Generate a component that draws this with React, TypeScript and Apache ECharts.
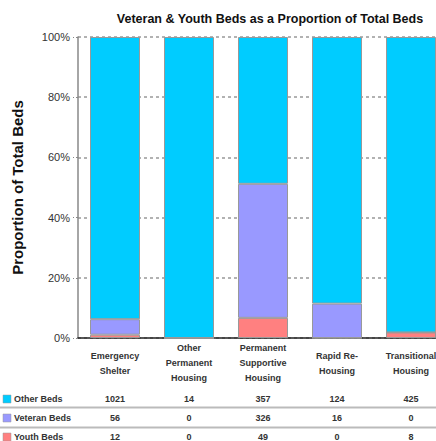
import React, { useEffect, useRef } from "react";
import * as echarts from "echarts";

const categories = [
  "Emergency\nShelter",
  "Other\nPermanent\nHousing",
  "Permanent\nSupportive\nHousing",
  "Rapid Re-\nHousing",
  "Transitional\nHousing",
];
const otherBeds = [1021, 14, 357, 124, 425];
const veteranBeds = [56, 0, 326, 16, 0];
const youthBeds = [12, 0, 49, 0, 8];
const yTicks = [0, 20, 40, 60, 80, 100];

const seriesDefs = [
  { name: "Other Beds", values: otherBeds, color: "#00CCFF" },
  { name: "Veteran Beds", values: veteranBeds, color: "#9999FF" },
  { name: "Youth Beds", values: youthBeds, color: "#FF8080" },
];

const FONT = "Liberation Sans";

export default function App() {
  const ref = useRef<HTMLDivElement>(null);
  useEffect(() => {
    if (!ref.current) return;
    const chart = echarts.init(ref.current, null, { renderer: "svg" });
    const totals = categories.map((_, i) => otherBeds[i] + veteranBeds[i] + youthBeds[i]);
    const pct = (arr: number[]) => arr.map((v, i) => (totals[i] ? (v / totals[i]) * 100 : 0));
    const stackOrder = [seriesDefs[2], seriesDefs[1], seriesDefs[0]];
    chart.setOption({
      animation: false,
      title: {
        text: "Veteran & Youth Beds as a Proportion of Total Beds",
        left: 265,
        textAlign: "center",
        top: 7,
        textStyle: { fontFamily: FONT, fontSize: 12.5, fontWeight: "bold", color: "#111" },
      },
      grid: { left: 78, top: 37, width: 370, height: 301, outerBoundsMode: "none", containLabel: false },
      xAxis: {
        type: "category",
        data: categories,
        axisLine: { lineStyle: { color: "#222", width: 1.5 } },
        axisTick: { show: false },
        axisLabel: {
          interval: 0,
          margin: 25,
          verticalAlign: "middle",
          fontFamily: FONT,
          fontSize: 9,
          fontWeight: "bold",
          color: "#333",
          lineHeight: 15,
        },
      },
      yAxis: {
        type: "value",
        min: yTicks[0],
        max: yTicks[yTicks.length - 1],
        interval: 20,
        name: "Proportion of Total Beds",
        nameLocation: "middle",
        nameGap: 53,
        nameTextStyle: { fontFamily: FONT, fontSize: 15, fontWeight: "bold", color: "#111" },
        axisLine: { show: true, lineStyle: { color: "#888", width: 1.5 } },
        axisTick: { show: true, length: 5, lineStyle: { color: "#888", type: [2, 2] } },
        axisLabel: {
          formatter: "{value}%",
          fontFamily: FONT,
          fontSize: 11,
          color: "#333",
          margin: 8,
        },
        splitLine: { lineStyle: { color: "#999", type: [3, 3], width: 1.5 } },
      },
      series: stackOrder.map((s) => ({
        name: s.name,
        type: "bar",
        stack: "total",
        barWidth: 50,
        data: pct(s.values),
        itemStyle: { color: s.color, borderColor: "#999", borderWidth: 1 },
      })),
    });

    const rowY = [399, 418, 437];
    const graphics: any[] = [];
    seriesDefs.forEach((s, r) => {
      graphics.push({
        type: "rect",
        shape: { x: 3, y: rowY[r] - 4, width: 8, height: 8 },
        style: { fill: s.color, stroke: "#999", lineWidth: 0.5 },
      });
      graphics.push({
        type: "text",
        x: 14,
        y: rowY[r],
        style: {
          text: s.name,
          fontFamily: FONT,
          fontSize: 9,
          fontWeight: "bold",
          fill: "#333",
          verticalAlign: "middle",
          align: "left",
        },
      });
      s.values.forEach((v, i) => {
        const px = chart.convertToPixel({ xAxisIndex: 0 }, i) as number;
        graphics.push({
          type: "text",
          x: px,
          y: rowY[r],
          style: {
            text: String(v),
            fontFamily: FONT,
            fontSize: 9,
            fontWeight: "bold",
            fill: "#333",
            align: "center",
            verticalAlign: "middle",
          },
        });
      });
    });
    [407.5, 427.5].forEach((y) => {
      graphics.push({
        type: "line",
        shape: { x1: 0, y1: y, x2: 436, y2: y },
        style: { stroke: "#bbb", lineWidth: 2 },
      });
    });
    chart.setOption({ graphic: graphics });
    return () => chart.dispose();
  }, []);
  return (
    <div
      ref={ref}
      style={{ position: "fixed", left: 0, top: 0, width: 436, height: 441, background: "#fff" }}
    />
  );
}
